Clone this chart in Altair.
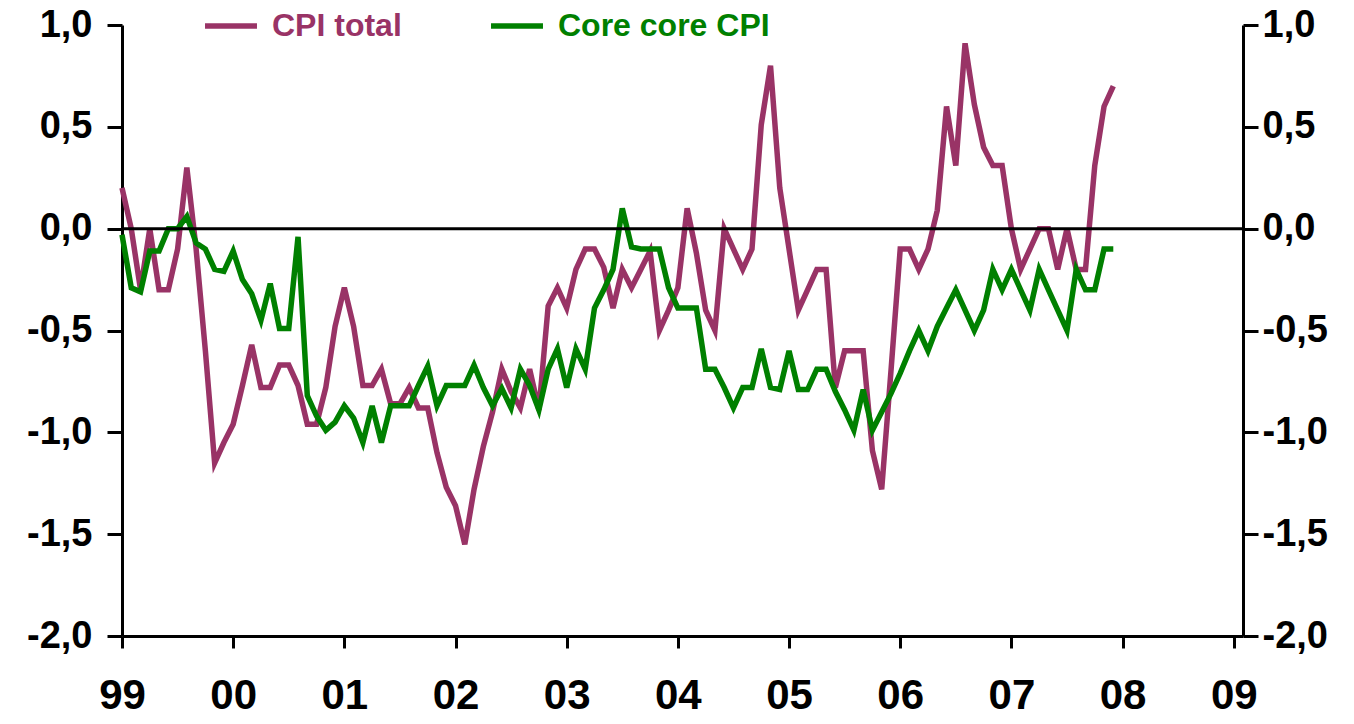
import altair as alt
import pandas as pd

# ---- data (monthly, Jan 1999 = month 0 ... Dec 2007 = month 107) ----
MONTHS = list(range(108))

CPI_TOTAL = [
    0.20, 0.00, -0.30, 0.00, -0.30, -0.30, -0.10, 0.30, -0.10, -0.60, -1.15, -1.05,
    -0.96, -0.77, -0.57, -0.78, -0.78, -0.67, -0.67, -0.77, -0.96, -0.96, -0.78, -0.48,
    -0.29, -0.48, -0.77, -0.77, -0.69, -0.86, -0.86, -0.78, -0.88, -0.88, -1.10, -1.27,
    -1.36, -1.55, -1.28, -1.07, -0.90, -0.69, -0.80, -0.88, -0.69, -0.89, -0.38, -0.29,
    -0.39, -0.20, -0.10, -0.10, -0.19, -0.39, -0.20, -0.29, -0.20, -0.11, -0.50, -0.40,
    -0.29, 0.10, -0.12, -0.40, -0.50, 0.00, -0.10, -0.20, -0.10, 0.51, 0.80, 0.20,
    -0.10, -0.40, -0.30, -0.20, -0.20, -0.78, -0.60, -0.60, -0.60, -1.09, -1.28, -0.70,
    -0.10, -0.10, -0.20, -0.10, 0.09, 0.60, 0.31, 0.91, 0.61, 0.40, 0.31, 0.31,
    0.00, -0.20, -0.10, 0.00, 0.00, -0.20, 0.00, -0.20, -0.20, 0.31, 0.60, 0.70,
]

CORE_CORE = [
    -0.03, -0.29, -0.31, -0.11, -0.11, 0.00, 0.00, 0.06, -0.07, -0.10, -0.20, -0.21,
    -0.11, -0.25, -0.32, -0.45, -0.27, -0.49, -0.49, -0.04, -0.82, -0.92, -0.99, -0.95,
    -0.87, -0.93, -1.05, -0.87, -1.05, -0.87, -0.87, -0.87, -0.77, -0.675, -0.87, -0.77,
    -0.77, -0.77, -0.67, -0.78, -0.87, -0.785, -0.88, -0.69, -0.77, -0.89, -0.69, -0.59,
    -0.78, -0.59, -0.69, -0.39, -0.30, -0.20, 0.10, -0.09, -0.10, -0.10, -0.10, -0.29,
    -0.39, -0.39, -0.39, -0.69, -0.69, -0.78, -0.88, -0.78, -0.78, -0.59, -0.78, -0.79,
    -0.60, -0.79, -0.79, -0.69, -0.69, -0.80, -0.89, -0.99, -0.79, -0.99, -0.90, -0.81,
    -0.71, -0.60, -0.50, -0.60, -0.48, -0.39, -0.30, -0.40, -0.50, -0.40, -0.20, -0.30,
    -0.20, -0.30, -0.40, -0.20, -0.30, -0.40, -0.50, -0.20, -0.30, -0.30, -0.10, -0.10,
]

SERIES = ["CPI total", "Core core CPI"]
COLORS = ["#993366", "#008000"]

YEAR_TICKS = [0, 12, 24, 36, 48, 60, 72, 84, 96, 108, 120]
YEAR_LABELS = ["99", "00", "01", "02", "03", "04", "05", "06", "07", "08", "09"]
Y_TICKS = [1.0, 0.5, 0.0, -0.5, -1.0, -1.5, -2.0]
ZERO = [0.0]

# ---- build table ----
df = pd.DataFrame({
    "m": MONTHS + MONTHS,
    "v": CPI_TOTAL + CORE_CORE,
    "s": [SERIES[0]] * len(MONTHS) + [SERIES[1]] * len(MONTHS),
})
zero_df = pd.DataFrame({"z": ZERO})

x_label_expr = "''"
for t, l in reversed(list(zip(YEAR_TICKS, YEAR_LABELS))):
    x_label_expr = f"datum.value == {t} ? '{l}' : ({x_label_expr})"

y_label_expr = "(datum.value < 0 ? '-' : '') + replace(format(abs(datum.value), '.1f'), '.', ',')"

label_color_expr = f"datum.label == '{SERIES[0]}' ? '{COLORS[0]}' : '{COLORS[1]}'"

FONT = "Liberation Sans"
x_scale = alt.Scale(domain=[0, 121], nice=False, zero=False)
y_scale = alt.Scale(domain=[-2, 1], nice=False, zero=False)

lines = alt.Chart(df).mark_line(strokeWidth=5.5).encode(
    x=alt.X("m:Q", scale=x_scale,
            axis=alt.Axis(values=YEAR_TICKS, labelExpr=x_label_expr, title=None, grid=False,
                          tickSize=12, labelFontSize=42, labelPadding=27, labelFlush=False)),
    y=alt.Y("v:Q", scale=y_scale,
            axis=alt.Axis(orient="left", values=Y_TICKS, labelExpr=y_label_expr, title=None,
                          grid=False, tickSize=15, labelFontSize=38, labelPadding=15,
                          labelFlush=False)),
    color=alt.Color("s:N", scale=alt.Scale(domain=SERIES, range=COLORS),
                    legend=alt.Legend(orient="none", legendX=80, legendY=-28, direction="horizontal",
                                      title=None, symbolType="stroke", symbolSize=2700,
                                      symbolStrokeWidth=5.5, labelOffset=12, columnPadding=78,
                                      labelFontSize=32, labelFont=FONT, labelFontWeight="bold",
                                      labelLimit=0,
                                      labelColor={"expr": label_color_expr},
                                      padding=0)),
)

zero_rule = alt.Chart(zero_df).mark_rule(color="black", strokeWidth=3).encode(
    y=alt.Y("z:Q", scale=y_scale,
            axis=alt.Axis(orient="right", values=Y_TICKS, labelExpr=y_label_expr, title=None,
                          grid=False, tickSize=15, labelFontSize=38, labelPadding=4,
                          labelFlush=False)),
)

chart = alt.layer(lines, zero_rule).resolve_axis(y="independent").properties(
    width=1121, height=611,
    autosize=alt.AutoSizeParams(type="none"),
    padding={"left": 114, "top": 17, "right": 103, "bottom": 80},
).configure_view(stroke=None).configure_axis(
    domainColor="black", tickColor="black", domainWidth=3, tickWidth=3,
    labelFont=FONT, labelFontWeight="bold", labelColor="black",
)

chart.save("out.html", embed_options={"renderer": "svg", "actions": False})
